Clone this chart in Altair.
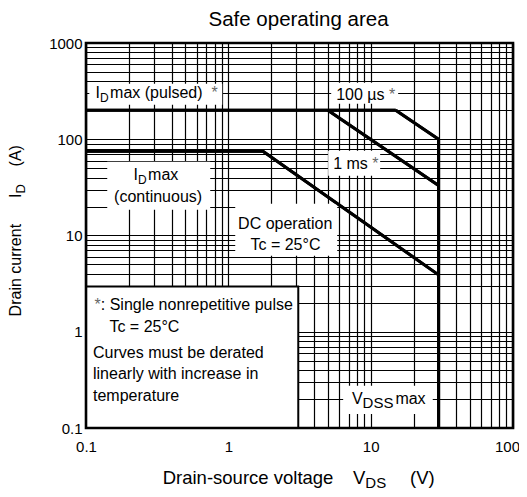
import altair as alt
import pandas as pd

# ---------------- chart values ----------------
pulsed_v = [0.1, 15]
pulsed_i = [200, 200]
us100_v = [15, 30]
us100_i = [200, 100]
ms1_v = [5, 30]
ms1_i = [200, 33]
dc_v = [0.1, 1.75, 30]
dc_i = [75, 75, 3.9]
vdss_v = [30, 30]
vdss_i = [100, 0.1]

x_ticks = [0.1, 0.2, 0.3, 0.4, 0.5, 0.6, 0.7, 0.8, 0.9,
           1, 2, 3, 4, 5, 6, 7, 8, 9,
           10, 20, 30, 40, 50, 60, 70, 80, 90, 100]
y_ticks = [0.1, 0.2, 0.3, 0.4, 0.5, 0.6, 0.7, 0.8, 0.9,
           1, 2, 3, 4, 5, 6, 7, 8, 9,
           10, 20, 30, 40, 50, 60, 70, 80, 90,
           100, 200, 300, 400, 500, 600, 700, 800, 900, 1000]
x_labels = [0.1, 1, 10, 100]
y_labels = [0.1, 1, 10, 100, 1000]

W, H = 427, 385
FONT = "Liberation Sans"
NB = "\u00a0"
GRAY = "#666666"

rows = []
for name, vs, cs in [("pulsed", pulsed_v, pulsed_i), ("100us", us100_v, us100_i),
                     ("1ms", ms1_v, ms1_i), ("dc", dc_v, dc_i), ("vdss", vdss_v, vdss_i)]:
    for k, (v, c) in enumerate(zip(vs, cs)):
        rows.append({"series": name, "v": v, "i": c, "k": k})
df = pd.DataFrame(rows)

xscale = alt.Scale(type="log", domain=[0.1, 100], nice=False)
yscale = alt.Scale(type="log", domain=[0.1, 1000], nice=False)


def expr_for(vals):
    return "indexof([" + ",".join(str(v) for v in vals) + "], datum.value) >= 0 ? datum.label : ''"


common_axis = dict(title=None, grid=True, gridColor="black", gridWidth=1.2, gridOpacity=1,
                   ticks=False, domain=False, labelFont=FONT, labelFontSize=15,
                   labelColor="black", labelOverlap=False, labelBound=False,
                   labelFlush=False, format="~g")
xaxis = alt.Axis(values=x_ticks, labelExpr=expr_for(x_labels), labelPadding=11,
                 labelOffset={"condition": {"test": "datum.value >= 100", "value": -6}, "value": 0},
                 **common_axis)
yaxis = alt.Axis(values=y_ticks, labelExpr=expr_for(y_labels), labelPadding=4, **common_axis)

lines = alt.Chart(df).mark_line(color="black", strokeWidth=3, strokeCap="butt").encode(
    x=alt.X("v:Q", scale=xscale, axis=xaxis),
    y=alt.Y("i:Q", scale=yscale, axis=yaxis),
    detail="series:N",
    order="k:Q",
)


def box(x1, x2, y1, y2, stroke=False):
    kw = dict(fill="white")
    if stroke:
        kw["stroke"] = "black"
        kw["strokeWidth"] = 2
    return alt.Chart(pd.DataFrame({"a": [0]})).mark_rect(**kw).encode(
        x=alt.datum(x1), x2=alt.datum(x2), y=alt.datum(y1), y2=alt.datum(y2))


def dtext(s, x, y, size=16, align="left", dx=0, dy=0, color="black"):
    kw = dict(font=FONT, fontSize=size, align=align, baseline="alphabetic", color=color)
    if dx:
        kw["dx"] = dx
    if dy:
        kw["dy"] = dy
    return alt.Chart(pd.DataFrame({"t": [s]})).mark_text(**kw).encode(
        x=alt.datum(x), y=alt.datum(y), text="t:N")


def ptext(s, x, y, size=16, align="left", angle=0):
    kw = dict(font=FONT, fontSize=size, align=align, baseline="alphabetic", color="black")
    if angle:
        kw["angle"] = angle
    return alt.Chart(pd.DataFrame({"t": [s]})).mark_text(**kw).encode(
        x=alt.value(x), y=alt.value(y), text="t:N")


boxes = [
    box(0.1055, 0.906, 228, 378),
    box(5.28, 15.6, 234, 386),
    box(5.03, 11.66, 41.8, 75.9),
    box(0.141, 0.746, 18.5, 58.4),
    box(1.118, 5.82, 6.15, 21.4),
    box(6.41, 27.3, 0.140, 0.274),
    box(0.1, 3.1, 0.1, 2.95, stroke=True),
]

texts = [
    dtext("I", 0.1168, 268),
    dtext("D", 0.1168, 268, size=12, dx=4.4, dy=4),
    dtext(NB + "max (pulsed)", 0.1168, 268, dx=14.5),
    dtext("*", 0.1168, 268, dx=115.8, color=GRAY),
    dtext("100 µs", 5.72, 258),
    dtext("*", 5.72, 258, dx=52.8, color=GRAY),
    dtext("1 ms", 5.45, 49.3),
    dtext("*", 5.45, 49.3, dx=39.1, color=GRAY),
    dtext("I", 0.216, 37.9),
    dtext("D", 0.216, 37.9, size=12, dx=4.4, dy=4),
    dtext(NB + "max", 0.216, 37.9, dx=14.5),
    dtext("(continuous)", 0.321, 22.4, align="center"),
    dtext("DC operation", 2.51, 11.65, align="center"),
    dtext("Tc = 25°C", 2.52, 7.1, align="center"),
    dtext("V", 7.38, 0.178),
    dtext("DSS", 7.38, 0.178, size=15, dx=10.7, dy=4),
    dtext(NB + "max", 7.38, 0.178, dx=43.5),
    dtext("*", 0.1149, 1.69, color=GRAY),
    dtext(": Single nonrepetitive pulse", 0.1149, 1.69, dx=6.2),
    dtext("Tc = 25°C", 0.146, 1.0),
    dtext("Curves must be derated", 0.112, 0.54),
    dtext("linearly with increase in", 0.112, 0.326),
    dtext("temperature", 0.112, 0.193),
]

border = alt.Chart(pd.DataFrame({"a": [0]})).mark_rect(
    filled=False, stroke="black", strokeWidth=2.6).encode(
    x=alt.datum(0.1), x2=alt.datum(100), y=alt.datum(0.1), y2=alt.datum(1000))

titles = [
    ptext("Safe operating area", 212.5, -17, size=20.5, align="center"),
    ptext("Drain-source voltage", 76.7, 441, size=18.5),
    ptext("V", 267, 441, size=18.5),
    ptext("DS", 279.3, 444.5, size=15),
    ptext("(V)", 324, 441, size=18.5),
    ptext("Drain current", -65.3, 273.4, size=16, angle=270),
    ptext("I", -65.3, 155, size=16, angle=270),
    ptext("D", -61.3, 150.6, size=13, angle=270),
    ptext("(A)", -65.3, 123.4, size=16, angle=270),
]

chart = alt.layer(lines, *boxes, lines, *texts, border, *titles).properties(
    width=W, height=H,
    padding={"left": 78, "top": 35, "right": 6, "bottom": 61},
    autosize=alt.AutoSizeParams(type="none"),
).configure_view(stroke=None)

chart.save("out.html", embed_options={"renderer": "svg", "actions": False})
